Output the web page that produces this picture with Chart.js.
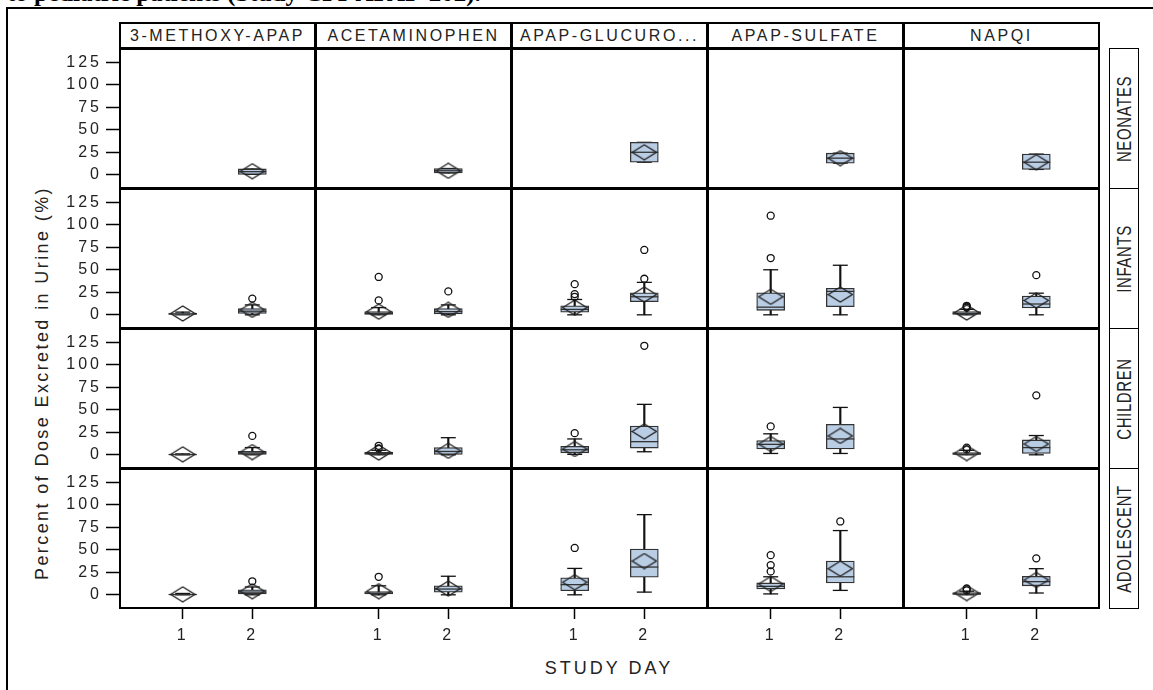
<!DOCTYPE html>
<html>
<head>
<meta charset="utf-8">
<script src="https://cdn.jsdelivr.net/npm/chart.js@4.4.1/dist/chart.umd.min.js"></script>
<style>
  html, body { margin: 0; padding: 0; background: #fff; overflow: hidden; }
  body { width: 1153px; height: 690px; position: relative; font-family: "Liberation Sans", Arial, sans-serif; color: #222; }
  #caption { position: absolute; left: 7px; top: -20px; font: bold 25px/25px "Liberation Serif", "Times New Roman", serif; color: #000; white-space: nowrap; }
  #frame { position: absolute; left: 6px; top: 7px; width: 1170px; height: 700px; border: 2px solid #000; box-sizing: border-box; }
  .head { position: absolute; top: 22px; height: 27px; border: 2px solid #000; box-sizing: border-box; font-size: 16px; letter-spacing: 2.6px; text-align: center; line-height: 23px; white-space: nowrap; overflow: hidden; background: #fff; }
  .strip { position: absolute; left: 1109px; width: 30px; border: 1.5px solid #000; box-sizing: border-box; background: #fff; }
  .rot { position: absolute; white-space: nowrap; transform: translate(-50%, -50%) rotate(-90deg); }
  canvas { position: absolute; }
</style>
</head>
<body>
<div id="caption">to pediatric patients (Study CPI-APAP-202).</div>
<div id="frame"></div>
<div id="stage"></div>
<script>
// 面板：列 = 代谢物，行 = 年龄组，横轴 = 研究日
const metabolites = ['3-METHOXY-APAP', 'ACETAMINOPHEN', 'APAP-GLUCURO...', 'APAP-SULFATE', 'NAPQI'];
const ageGroups = ['NEONATES', 'INFANTS', 'CHILDREN', 'ADOLESCENT'];
const studyDays = [1, 2];
const yTicks = [0, 25, 50, 75, 100, 125];

// 每个统计量: [行][列] -> [第1天, 第2天]
const q1 = [
    [[null, 0.5], [null, 2], [null, 14], [null, 13], [null, 6]],
    [[0.3, 1.5], [0.5, 1], [3, 14.5], [5, 9], [0.5, 7.7]],
    [[0, 0.5], [0.5, 0.5], [2.2, 7.5], [6.4, 6.4], [0.3, 1.5]],
    [[0, 1], [1, 3], [4.5, 19.5], [6.4, 13.2], [0.3, 10]]
];
const median = [
    [[null, 3.5], [null, 4.5], [null, 25], [null, 18.5], [null, 14]],
    [[1, 4], [1.5, 3.5], [6, 20], [8.5, 26], [1.5, 12]],
    [[0.3, 2], [1.5, 3.7], [5.6, 14.6], [11.6, 17.6], [1, 8]],
    [[0.3, 3], [2, 6.4], [11.3, 30.8], [9.4, 20], [1, 14.6]]
];
const q3 = [
    [[null, 6.5], [null, 7], [null, 36], [null, 24], [null, 23]],
    [[1.8, 7], [3.5, 7], [10, 24.5], [24.5, 29.5], [3.5, 20.8]],
    [[0.5, 4], [3, 8], [9.4, 32], [15.8, 33.8], [2.5, 16.5]],
    [[0.6, 5.5], [3.7, 10], [18.8, 50.7], [13.2, 37.5], [2.5, 20.6]]
];
const whiskerLow = [
    [[null, 0.5], [null, 2], [null, 14], [null, 13], [null, 6]],
    [[0, 0], [0, 0], [0, 0], [0, 0], [0, 0]],
    [[0, 0], [0, 0], [0.5, 3.4], [1.5, 1.5], [0, 0]],
    [[0, 0], [0, 0], [0, 3], [1, 4.9], [0, 2]]
];
const whiskerHigh = [
    [[null, 6.5], [null, 7], [null, 36], [null, 24], [null, 23]],
    [[3, 11], [8, 11], [17, 36], [50, 55], [6, 24]],
    [[1, 8], [5, 19], [17.6, 56], [23.3, 52.6], [5, 21.4]],
    [[1.5, 8.7], [10, 20.6], [29.3, 89], [20, 71.3], [4, 29]]
];
const means = [
    [[null, 4], [null, 4.5], [null, 25], [null, 18.5], [null, 14]],
    [[1.5, 5.5], [3.5, 5.5], [8, 22.5], [20, 22.5], [2.5, 16]],
    [[0.5, 3], [2.5, 4.5], [6.5, 26], [12, 21], [2, 12]],
    [[0.5, 4], [4, 7], [14, 37.5], [12, 29], [2, 16.5]]
];
const outliers = [
    [[[], []], [[], []], [[], []], [[], []], [[], []]],
    [[[], [18]], [[16, 42], [26]], [[20, 23, 34], [40, 72]], [[63, 110], []], [[8, 9, 10], [44]]],
    [[[], [21]], [[7, 10], []], [[24], [121]], [[31.5], []], [[6, 8], [66]]],
    [[[], [15]], [[20], []], [[52], []], [[26, 33, 44], [81.4]], [[5, 7], [40.5]]]
];

// 布局
const COL_LEFT = 119, COL_STEP = 196, PANEL_W = 197;
const ROW_TOPS = [48, 188, 328, 468], PANEL_H = 141;
const AXW = 80, AXH = 50;
const BOX_FILL = '#b9cde5';
const INK = '#222';
const FONT = { family: '"Liberation Sans", Arial, sans-serif', size: 16 };

// 均值菱形标记
function makeDiamond(w, h) {
    const cv = document.createElement('canvas');
    cv.width = w + 2;
    cv.height = h + 2;
    const g = cv.getContext('2d');
    g.strokeStyle = INK;
    g.lineWidth = 1.3;
    g.beginPath();
    g.moveTo(1, h / 2 + 1);
    g.lineTo(w / 2 + 1, 1);
    g.lineTo(w + 1, h / 2 + 1);
    g.lineTo(w / 2 + 1, h + 1);
    g.closePath();
    g.stroke();
    return cv;
}
const diamond = makeDiamond(24, 15);

const panelFrame = {
    id: 'panelFrame',
    afterDraw(chart) {
        const { ctx, chartArea: a } = chart;
        ctx.save();
        ctx.strokeStyle = '#000';
        ctx.lineWidth = 2;
        ctx.strokeRect(a.left + 1, a.top + 1, a.right - a.left - 2, a.bottom - a.top - 2);
        ctx.restore();
    }
};

const spacedText = {
    id: 'spacedText',
    beforeDraw(chart) { chart.ctx.letterSpacing = '3px'; }
};

function panelDatasets(r, c) {
    const whisk = [], box = [], med = [], caps = [], mean = [], outs = [];
    studyDays.forEach((day, d) => {
        if (q1[r][c][d] === null) return;
        whisk.push({ x: day, y: [whiskerLow[r][c][d], whiskerHigh[r][c][d]] });
        box.push({ x: day, y: [q1[r][c][d], q3[r][c][d]] });
        med.push({ x: day, y: median[r][c][d] });
        caps.push({ x: day, y: whiskerLow[r][c][d] }, { x: day, y: whiskerHigh[r][c][d] });
        mean.push({ x: day, y: means[r][c][d] });
        outliers[r][c][d].forEach(v => outs.push({ x: day, y: v }));
    });
    return [
        { type: 'bar', data: whisk, grouped: false, barThickness: 1.5, backgroundColor: '#111', borderWidth: 0, order: 6 },
        { type: 'scatter', data: caps, pointStyle: 'line', pointRadius: 7.5, pointBorderWidth: 1.3, pointBorderColor: '#111', order: 5 },
        { type: 'bar', data: box, grouped: false, barThickness: 28, backgroundColor: BOX_FILL, borderColor: '#333', borderWidth: 1.3, borderSkipped: false, order: 4 },
        { type: 'scatter', data: med, pointStyle: 'line', pointRadius: 14, pointBorderWidth: 1.3, pointBorderColor: '#333', order: 3 },
        { type: 'scatter', data: mean, pointStyle: diamond, pointRadius: 8, order: 2 },
        { type: 'scatter', data: outs, pointStyle: 'circle', pointRadius: 3.5, pointBorderWidth: 1.3, pointBorderColor: '#111', pointBackgroundColor: 'rgba(0,0,0,0)', order: 1 }
    ];
}

function xScale(show) {
    const s = {
        type: 'linear', min: 0.085, max: 2.915, offset: false, display: show,
        afterBuildTicks: sc => { sc.ticks = studyDays.map(v => ({ value: v })); },
        grid: { display: true, drawOnChartArea: false, drawTicks: true, tickLength: 10, tickColor: '#000', tickWidth: 1.5, offset: false },
        border: { display: false },
        ticks: { padding: 7, font: FONT, color: INK, maxRotation: 0, autoSkip: false }
    };
    if (show) s.afterFit = sc => { sc.height = AXH; sc.paddingLeft = 0; sc.paddingRight = 0; };
    return s;
}

function yScale(show) {
    const s = {
        type: 'linear', min: -15.75, max: 140.75, display: show,
        afterBuildTicks: sc => { sc.ticks = yTicks.map(v => ({ value: v })); },
        grid: { display: true, drawOnChartArea: false, drawTicks: true, tickLength: 13, tickColor: '#000', tickWidth: 1.5 },
        border: { display: false },
        ticks: { padding: 4, font: FONT, color: INK, autoSkip: false }
    };
    if (show) s.afterFit = sc => { sc.width = AXW; sc.paddingTop = 0; sc.paddingBottom = 0; };
    return s;
}

const stage = document.getElementById('stage');

function addText(text, css, cls) {
    const el = document.createElement('div');
    if (cls) el.className = cls;
    el.textContent = text;
    Object.assign(el.style, css);
    stage.appendChild(el);
    return el;
}

// 列标题
metabolites.forEach((name, c) => {
    addText(name, { left: (COL_LEFT + COL_STEP * c) + 'px', width: PANEL_W + 'px' }, 'head');
});

// 行标签条
ageGroups.forEach((name, r) => {
    const strip = document.createElement('div');
    strip.className = 'strip';
    strip.style.top = ROW_TOPS[r] + 'px';
    strip.style.height = PANEL_H + 'px';
    stage.appendChild(strip);
    const lab = addText(name, {
        left: '1124px', top: (ROW_TOPS[r] + PANEL_H / 2) + 'px',
        fontSize: '15px', letterSpacing: '0.6px'
    }, 'rot');
    lab.style.transform = 'translate(-50%, -50%) rotate(-90deg) scaleY(1.3)';
});

// 坐标轴标题
addText('Percent of Dose Excreted in Urine (%)', {
    left: '42px', top: '383px', fontSize: '18px', letterSpacing: '2.4px'
}, 'rot');
addText('STUDY DAY', {
    position: 'absolute', left: '609px', top: '668px', fontSize: '18px', letterSpacing: '3px',
    transform: 'translate(-50%, -50%)', whiteSpace: 'nowrap'
});

// 绘制各面板
ageGroups.forEach((_, r) => {
    metabolites.forEach((__, c) => {
        const left = COL_LEFT + COL_STEP * c - (c === 0 ? AXW : 0);
        const w = PANEL_W + (c === 0 ? AXW : 0);
        const h = PANEL_H + (r === 3 ? AXH : 0);
        const cv = document.createElement('canvas');
        cv.width = w;
        cv.height = h;
        cv.style.left = left + 'px';
        cv.style.top = ROW_TOPS[r] + 'px';
        cv.style.width = w + 'px';
        cv.style.height = h + 'px';
        stage.appendChild(cv);

        new Chart(cv, {
            type: 'bar',
            data: { datasets: panelDatasets(r, c) },
            options: {
                responsive: false,
                animation: false,
                events: [],
                devicePixelRatio: 1,
                layout: { padding: 0, autoPadding: false },
                plugins: { legend: { display: false }, tooltip: { enabled: false } },
                scales: { x: xScale(r === 3), y: yScale(c === 0) }
            },
            plugins: [panelFrame, spacedText]
        });
    });
});
</script>
</body>
</html>
